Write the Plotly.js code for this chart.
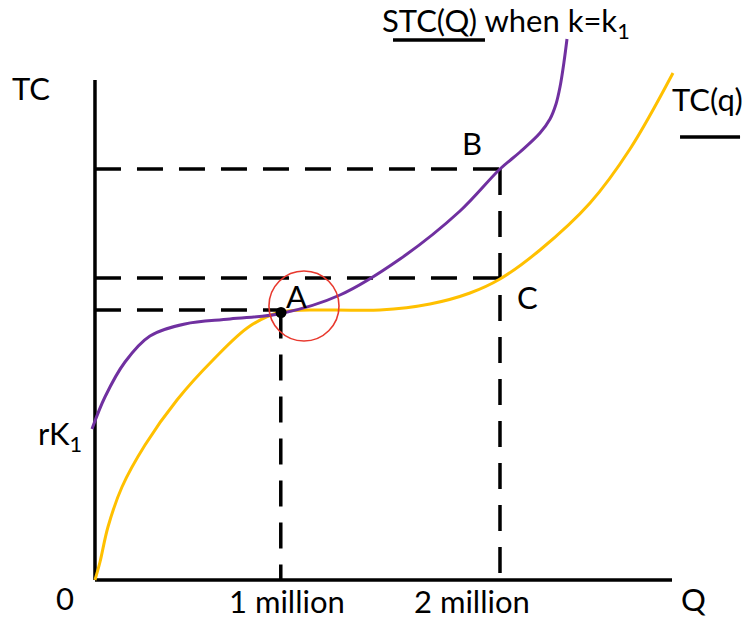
<!DOCTYPE html>
<html>
<head>
<meta charset="utf-8">
<script src="https://cdn.plot.ly/plotly-3.0.1.min.js"></script>
<style>html,body{margin:0;padding:0;background:#fff;}#chart{width:751px;height:621px;}</style>
</head>
<body>
<div id="chart"></div>
<script>
// Short-run total cost curve STC(Q) when k = k1 (purple)
const stcQ  = [-0.52, 1.73, 5.20, 9.53, 15.60, 23.40, 32.24, 42.46, 52.86, 63.26, 70.19, 73.66, 77.12, 78.86, 79.90, 80.59, 81.28, 81.80];
const stcTC = [30.2, 36.6, 43.6, 48.8, 51.2, 52.2, 53.3, 57, 64.2, 73.8, 82.2, 85.6, 89.4, 92.2, 95.2, 98.6, 103.6, 108.2];
// Long-run total cost curve TC(q) (yellow)
const tcQ  = [0, 0.87, 2.25, 4.68, 8.67, 14.21, 20.45, 26.86, 32.24, 40.73, 49.39, 58.06, 64.99, 70.19, 77.12, 85.79, 92.72, 100.17];
const tcTC = [0, 3.6, 10.6, 18.6, 27, 36, 44, 50.8, 53.6, 54, 54, 55.2, 57.4, 60.2, 66, 75.4, 86.2, 101.4];
// Quantities: 1 million, 2 million (axis units)
const qLevels = [32.2, 70.19];
const qLabels = ['1 million', '2 million'];
// Cost levels: A, C, B
const levelA = 54, levelC = 60.4, levelB = 82.2;
const pointA = {q: 32.24, tc: 53.5};
const axisMaxQ = 100, axisMaxTC = 100;

const black = '#000000';
const dash = '26px,16px';
const traces = [];
function seg(xs, ys, opts) {
  traces.push(Object.assign({x: xs, y: ys, mode: 'lines', hoverinfo: 'skip', showlegend: false,
    line: {color: black, width: 3.5}}, opts || {}));
}
// axes
seg([0, 0], [axisMaxTC, 0]);
seg([0, axisMaxQ], [0, 0]);
// dashed guides
const dl = {color: black, width: 3.5, dash: dash};
seg([0, qLevels[1]], [levelB, levelB], {line: dl});
seg([0, qLevels[1] + 0.5], [levelC, levelC], {line: dl});
seg([0, qLevels[0]], [levelA, levelA], {line: dl});
seg([qLevels[0], qLevels[0]], [pointA.tc, 0], {line: dl});
seg([qLevels[1], qLevels[1]], [levelB, 0], {line: dl});
// curves
traces.push({x: tcQ, y: tcTC, mode: 'lines', line: {color: '#FFC000', width: 3, shape: 'spline', smoothing: 1}, hoverinfo: 'skip', showlegend: false});
traces.push({x: stcQ, y: stcTC, mode: 'lines', line: {color: '#7030A0', width: 3, shape: 'spline', smoothing: 1}, hoverinfo: 'skip', showlegend: false});
// point A
traces.push({x: [pointA.q], y: [pointA.tc], mode: 'markers', marker: {color: black, size: 11}, hoverinfo: 'skip', showlegend: false});

const font = {family: 'Lato, "Open Sans", sans-serif', size: 31, color: black};
function ann(text, x, y, xanchor, yanchor) {
  return {text: text, x: x, y: y, xref: 'x', yref: 'y', showarrow: false, borderpad: 0,
    xanchor: xanchor || 'center', yanchor: yanchor || 'middle', font: font};
}
const annotations = [
  ann('TC', -11.09, 98.4),
  ann('STC(Q) when k=k<sub>1</sub>', 49.6, 111.6, 'left'),
  ann('TC(q)', 106.07, 96.2),
  ann(qLabels[0], 33.28, -8.2, 'center', 'bottom'),
  ann(qLabels[1], 65.34, -8.2, 'center', 'bottom'),
  ann('0', -5.2, -3.6),
  ann('Q', 103.81, -3.8),
  ann('rK<sub>1</sub>', -6.07, 29),
  ann('A', 35.0, 56.8),
  ann('B', 65.34, 87.4),
  ann('C', 75.04, 56.6)
];

const shapes = [
  {type: 'circle', xref: 'x', yref: 'y', x0: 30.15, x1: 42.29, y0: 47.8, y1: 61.8, line: {color: '#E8392E', width: 1.6}},
  {type: 'line', xref: 'x', yref: 'y', x0: 51.65, x1: 67.59, y0: 108, y1: 108, line: {color: black, width: 3.5}},
  {type: 'line', xref: 'x', yref: 'y', x0: 101.39, x1: 111.79, y0: 88.6, y1: 88.6, line: {color: black, width: 3.5}}
];

const layout = {
  width: 751, height: 621,
  margin: {l: 0, r: 0, t: 0, b: 0},
  paper_bgcolor: '#ffffff', plot_bgcolor: '#ffffff',
  xaxis: {range: [-16.46, 113.69], visible: false, fixedrange: true},
  yaxis: {range: [-8.2, 116], visible: false, fixedrange: true},
  annotations: annotations,
  shapes: shapes,
  showlegend: false
};
Plotly.newPlot('chart', traces, layout, {staticPlot: true, displayModeBar: false});
</script>
</body>
</html>
